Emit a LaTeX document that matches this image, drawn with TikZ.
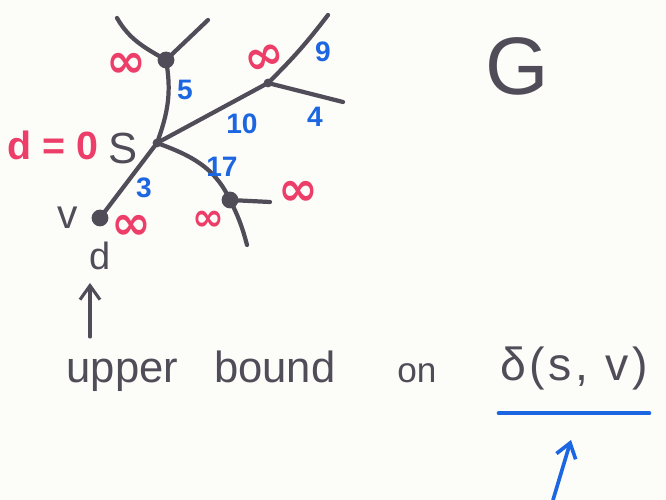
\documentclass[tikz,border=0pt]{standalone}
\usepackage{fontspec}
\setmainfont{Liberation Sans}
\newfontfamily\simbol{DejaVu Sans}
\usetikzlibrary{positioning, arrows.meta}
\definecolor{creion}{RGB}{80,76,88}
\definecolor{rosu}{RGB}{236,62,104}
\definecolor{albastru}{RGB}{28,102,226}
\definecolor{hartie}{RGB}{252,252,249}

\begin{document}
\begin{tikzpicture}[
        x=0.025cm, y=0.025cm,
        varf/.style={circle, fill=creion, inner sep=0pt, minimum size=4.2mm},
        nod/.style={circle, fill=creion, inner sep=0pt, minimum size=2.2mm},
        muchie/.style={draw=creion, line width=3pt, line cap=round},
        infinit/.style={text=rosu, font=\simbol\bfseries\fontsize{34}{36}\selectfont, inner sep=1pt},
        pondere/.style={text=albastru, font=\bfseries\fontsize{20}{22}\selectfont, inner sep=1pt},
        scris/.style={text=creion, font=\fontsize{29}{32}\selectfont, inner sep=1pt},
        sageata/.style={-{Straight Barb[length=3.5mm, width=5mm]}, line width=2.2pt, line cap=round},
    ]
        \fill[hartie] (0,0) rectangle (666,500);
        \useasboundingbox (0,0) rectangle (666,500);
        % graful
        \node[nod] (s) at (157,357) {};
        \node[varf] (a) at (166,440) {};
        \node[nod] (b) at (268,417) {};
        \node[varf] (c) at (230,300) {};
        \node[varf] (v) at (100,282) {};
        \coordinate (a1) at (117,482);
        \coordinate (a2) at (208,480);
        \coordinate (b1) at (328,485);
        \coordinate (b2) at (343,398);
        \coordinate (c1) at (270,298);
        \coordinate (c2) at (247,255);
        \draw[muchie] (s.center) to[out=70, in=-80] (a.center);
        \draw[muchie] (s.center) -- (b.center);
        \draw[muchie] (s.center) to[out=-20, in=115] (c.center);
        \draw[muchie] (s.center) -- (v.center);
        \draw[muchie] (a.center) to[out=150, in=-60] (a1);
        \draw[muchie] (a.center) -- (a2);
        \draw[muchie] (b.center) to[bend right=4] (b1);
        \draw[muchie] (b.center) -- (b2);
        \draw[muchie] (c.center) -- (c1);
        \draw[muchie] (c.center) to[bend left=6] (c2);
        % etichete
        \node[infinit] (ia) at (126,435) {∞};
        \node[infinit, rotate=20] (ib) at (265,441) {∞};
        \node[infinit] (ic1) at (298,307) {∞};
        \node[infinit, scale=0.8] (ic2) at (208,279) {∞};
        \node[infinit] (iv) at (131,273) {∞};
        \node[pondere] (p5) at (185,410) {5};
        \node[pondere] (p9) at (323,448) {9};
        \node[pondere] (p10) at (242,376) {10};
        \node[pondere] (p4) at (315,383) {4};
        \node[pondere] (p17) at (222,333) {17};
        \node[pondere] (p3) at (144,312) {3};
        \node[scris, text=rosu, font=\bfseries\fontsize{28}{30}\selectfont] (ds) at (53,355) {d = 0};
        \node[scris, font=\fontsize{31}{34}\selectfont] (sn) at (123,352) {S};
        \node[scris, left=3mm of v] (vn) {v};
        \node[scris, font=\fontsize{27}{29}\selectfont, below=3.5mm of v] (dv) {d};
        \node[scris, font=\fontsize{58}{62}\selectfont] (g) at (517,434) {G};
        % textul de jos
        \node[scris, font=\fontsize{31}{34}\selectfont, anchor=base west] (limita) at (65,117)
            {upper\hspace{0.9cm}bound\hspace{1.55cm}{\fontsize{25}{28}\selectfont on}};
        \node[scris, font=\fontsize{33}{36}\selectfont\addfontfeature{LetterSpace=8}] (delta) at (574,132)
            {δ(s, v)};
        \draw[draw=albastru, line width=2.6pt, line cap=round]
            ([yshift=-0.55cm]delta.south west) -- ([yshift=-0.55cm]delta.south east);
        \coordinate (coada) at (90,163);
        \coordinate (tinta) at (90,217);
        \draw[sageata, draw=creion] (coada) -- (tinta);
        \coordinate (coadab) at (553,0);
        \coordinate (tintab) at (571,60);
        \draw[sageata, draw=albastru, line width=2.6pt] (coadab) -- (tintab);
    \end{tikzpicture}
\end{document}
